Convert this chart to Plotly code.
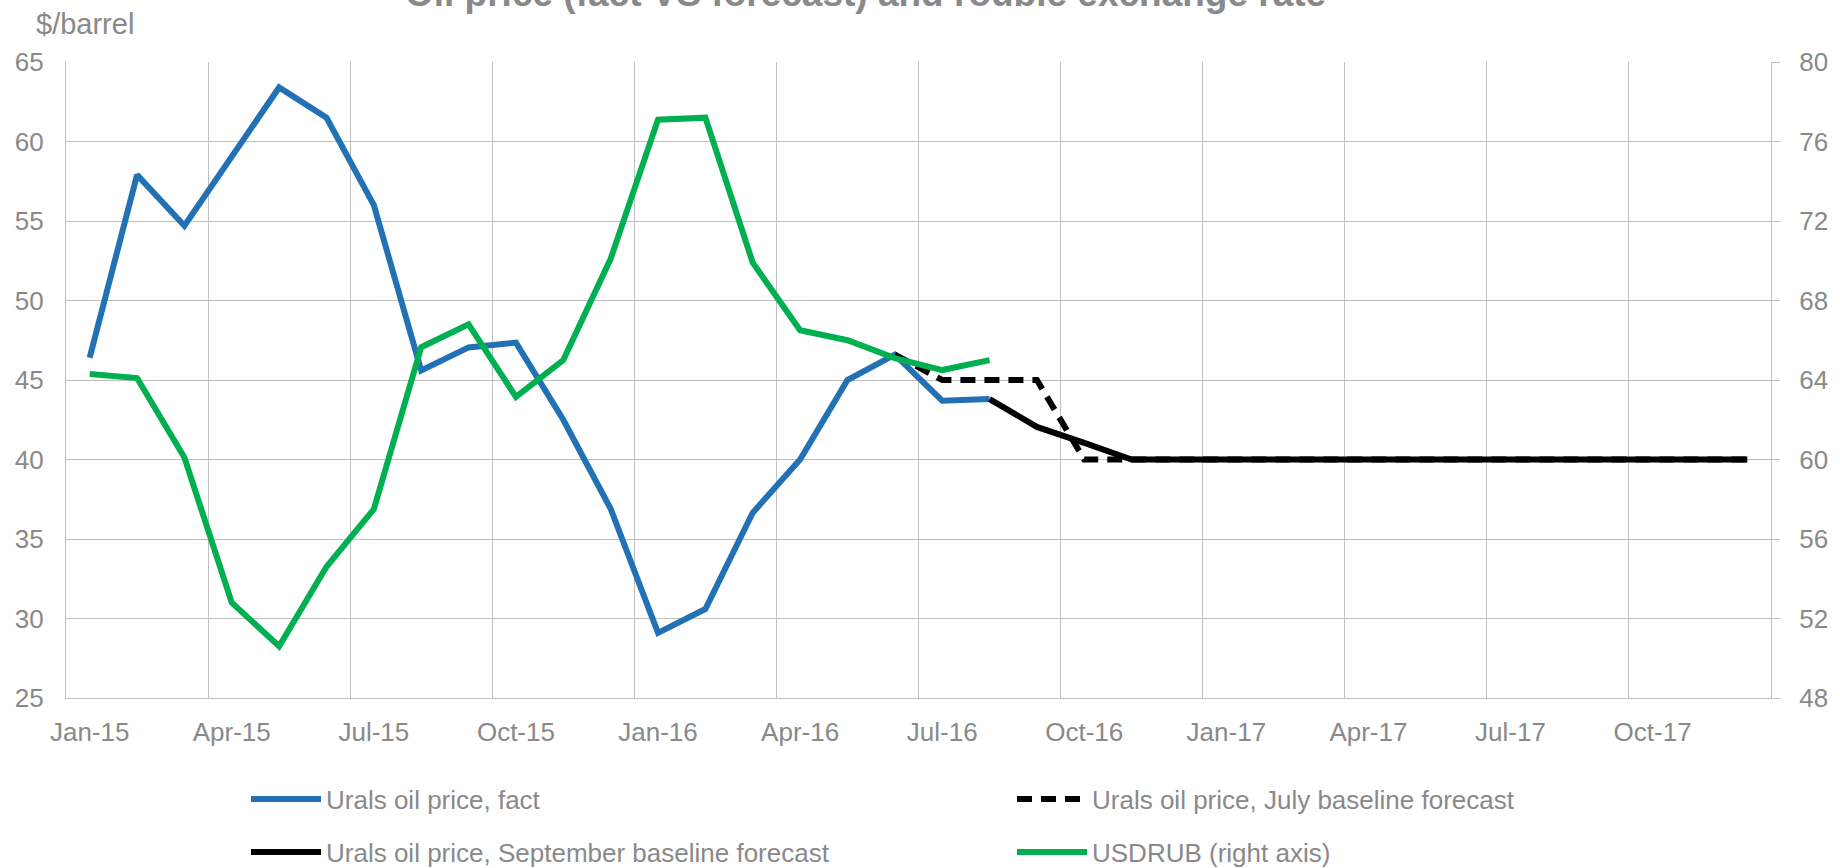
import plotly.graph_objects as go

# Month labels for the category axis (Jan-15 .. Dec-17)
months = [
    "Jan-15", "Feb-15", "Mar-15", "Apr-15", "May-15", "Jun-15", "Jul-15", "Aug-15", "Sep-15", "Oct-15", "Nov-15", "Dec-15",
    "Jan-16", "Feb-16", "Mar-16", "Apr-16", "May-16", "Jun-16", "Jul-16", "Aug-16", "Sep-16", "Oct-16", "Nov-16", "Dec-16",
    "Jan-17", "Feb-17", "Mar-17", "Apr-17", "May-17", "Jun-17", "Jul-17", "Aug-17", "Sep-17", "Oct-17", "Nov-17", "Dec-17",
]

# Urals oil price, fact ($/barrel), Jan-15 .. Aug-16
urals_fact = [46.4, 57.9, 54.7, 59.1, 63.4, 61.5, 56.0, 45.6, 47.05, 47.35, 42.5, 36.9,
              29.1, 30.6, 36.65, 40.0, 45.0, 46.6, 43.7, 43.8]

# July baseline forecast, Jun-16 .. Dec-17
july_start = 17
urals_july = [46.6, 45.0, 45.0, 45.0, 40.0, 40.0, 40.0, 40.0, 40.0, 40.0,
              40.0, 40.0, 40.0, 40.0, 40.0, 40.0, 40.0, 40.0, 40.0]

# September baseline forecast, Aug-16 .. Dec-17
sept_start = 19
urals_sept = [43.8, 42.05, 41.05, 40.0, 40.0, 40.0, 40.0, 40.0, 40.0,
              40.0, 40.0, 40.0, 40.0, 40.0, 40.0, 40.0, 40.0]

# USDRUB exchange rate (right axis), Jan-15 .. Aug-16
usdrub = [64.3, 64.1, 60.1, 52.8, 50.6, 54.6, 57.5, 65.65, 66.8, 63.15, 65.0, 70.1,
          77.1, 77.2, 69.9, 66.5, 66.0, 65.1, 64.5, 65.0]

label_positions = list(range(0, len(months), 3))
x_labels = [months[i] for i in label_positions]
grid_positions = [i - 0.5 for i in range(0, len(months) + 1, 3)]

GREY_TEXT = "#898989"
GRID = "#c0c0c0"
FONT = "Liberation Sans, Arial, sans-serif"
BLUE = "#2271b5"
GREEN = "#00b050"
LINE_W = 6

W, H = 1840, 868
M_L, M_R, M_T, M_B = 66, 58, 62, 170
PLOT_W, PLOT_H = W - M_L - M_R, H - M_T - M_B

idx = list(range(len(months)))

fig = go.Figure()

fig.add_trace(go.Scatter(
    x=idx[:len(urals_fact)], y=urals_fact, mode="lines",
    name="Urals oil price, fact", line=dict(color=BLUE, width=LINE_W),
    legend="legend", hoverinfo="skip",
))
fig.add_trace(go.Scatter(
    x=idx[july_start:july_start + len(urals_july)], y=urals_july, mode="lines",
    name="Urals oil price, July baseline forecast",
    line=dict(color="black", width=LINE_W, dash="15px,9px"),
    legend="legend2", hoverinfo="skip",
))
fig.add_trace(go.Scatter(
    x=idx[sept_start:sept_start + len(urals_sept)], y=urals_sept, mode="lines",
    name="Urals oil price, September baseline forecast",
    line=dict(color="black", width=LINE_W),
    legend="legend3", hoverinfo="skip",
))
fig.add_trace(go.Scatter(
    x=idx[:len(usdrub)], y=usdrub, mode="lines", yaxis="y2",
    name="USDRUB (right axis)", line=dict(color=GREEN, width=LINE_W),
    legend="legend4", hoverinfo="skip",
))

# invisible carrier trace so the label axis gets drawn
fig.add_trace(go.Scatter(x=[0], y=[None], xaxis="x2", showlegend=False, hoverinfo="skip"))


def legend_box(x_px, y_px):
    return dict(
        x=x_px / W, y=1 - y_px / H, xref="container", yref="container",
        xanchor="left", yanchor="middle", orientation="h",
        font=dict(family=FONT, size=26, color=GREY_TEXT),
        bgcolor="rgba(0,0,0,0)", itemwidth=70, borderwidth=0,
    )


tick_font = dict(family=FONT, size=26, color=GREY_TEXT)

fig.update_layout(
    width=W, height=H,
    paper_bgcolor="white", plot_bgcolor="white",
    margin=dict(l=M_L, r=M_R, t=M_T, b=M_B),
    font=dict(family=FONT, color=GREY_TEXT),
    xaxis=dict(
        range=[-0.5, len(months) - 0.5], tickmode="array", tickvals=grid_positions,
        showticklabels=False, showgrid=True, gridcolor=GRID, gridwidth=1.3,
        showline=True, linecolor=GRID, linewidth=1.3, ticks="", zeroline=False,
    ),
    xaxis2=dict(
        range=[-0.5, len(months) - 0.5], overlaying="x", anchor="y", side="bottom",
        tickmode="array", tickvals=label_positions, ticktext=x_labels,
        showgrid=False, showline=False, zeroline=False, ticks="",
        tickfont=tick_font, ticklabelstandoff=16,
    ),
    yaxis=dict(
        range=[25, 65], dtick=5, tick0=25, showgrid=True, gridcolor=GRID, gridwidth=1.3,
        showline=True, linecolor=GRID, linewidth=1.3, zeroline=False, ticks="",
        tickfont=tick_font, ticklabelstandoff=16,
    ),
    yaxis2=dict(
        range=[48, 80], dtick=4, tick0=48, overlaying="y", side="right", anchor="x",
        showgrid=False, showline=True, linecolor=GRID, linewidth=1.3, zeroline=False,
        ticks="outside", ticklen=8, tickcolor=GRID, tickwidth=1.3,
        tickfont=tick_font, ticklabelstandoff=14,
    ),
    legend=legend_box(246, 799),
    legend2=legend_box(1012, 799),
    legend3=legend_box(246, 852),
    legend4=legend_box(1012, 852),
    annotations=[
        # chart title, partly above the top edge of the page
        dict(
            text="<b>Oil price (fact VS forecast) and rouble exchange rate</b>",
            x=(871 - M_L) / PLOT_W, y=(H - M_B - 16) / PLOT_H,
            xref="paper", yref="paper", xanchor="center", yanchor="bottom",
            showarrow=False,
            font=dict(family=FONT, size=37, color=GREY_TEXT),
        ),
        # unit label for the left axis
        dict(
            text="$/barrel",
            x=(34 - M_L) / PLOT_W, y=(H - M_B - 24) / PLOT_H,
            xref="paper", yref="paper",
            xanchor="left", yanchor="middle", showarrow=False,
            font=dict(family=FONT, size=29, color=GREY_TEXT),
        ),
    ],
)

fig.write_html("out.html")
